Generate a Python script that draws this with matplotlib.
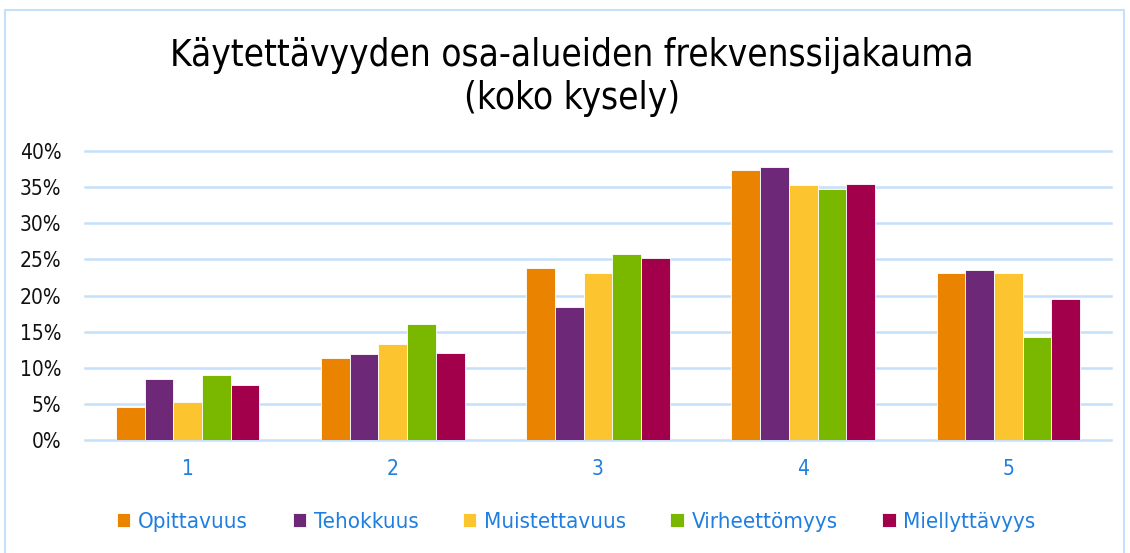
import matplotlib
matplotlib.use("Agg")
import matplotlib.pyplot as plt
import numpy as np
from matplotlib.patches import Rectangle
from matplotlib.ticker import PercentFormatter

plt.rcParams['font.family'] = ['DejaVu Sans']
plt.rcParams['font.stretch'] = 'condensed'

categories = ["1", "2", "3", "4", "5"]
series = ["Opittavuus", "Tehokkuus", "Muistettavuus", "Virheettömyys", "Miellyttävyys"]
opittavuus = [4.6, 11.3, 23.8, 37.4, 23.05]
tehokkuus = [8.5, 11.85, 18.4, 37.85, 23.5]
muistettavuus = [5.25, 13.3, 23.15, 35.25, 23.15]
virheettomyys = [9.05, 16.1, 25.8, 34.7, 14.3]
miellyttavyys = [7.65, 12.1, 25.2, 35.5, 19.55]
colors = ["#E98300", "#6E2878", "#FCC530", "#7AB800", "#A3004B"]

values = [opittavuus, tehokkuus, muistettavuus, virheettomyys, miellyttavyys]

fig = plt.figure(figsize=(11.3, 5.53), dpi=100)
# outer chart border
fig.patches.append(Rectangle((5 / 1130, -0.05), 1119 / 1130, 1.05 - 10 / 553,
                             transform=fig.transFigure, fill=False,
                             edgecolor="#C5E0FA", lw=1.5))

ax = fig.add_axes([85 / 1130, 1 - 440 / 553, 1026 / 1130, 289 / 553])

x = np.arange(len(categories))
w = 0.7 / len(series)
for i, (name, vals) in enumerate(zip(series, values)):
    ax.bar(x + (i - 2) * w, vals, width=w, color=colors[i], label=name,
           edgecolor="white", linewidth=0.6, zorder=3)

ax.set_xlim(-0.5, 4.5)
ax.set_ylim(0, 40)
ax.set_yticks(np.arange(0, 41, 5))
ax.yaxis.set_major_formatter(PercentFormatter(decimals=0))
ax.grid(axis="y", color="#C5E0FA", lw=1.8, zorder=0)
for gl in ax.get_ygridlines():
    gl.set_clip_on(False)
for s in ax.spines.values():
    s.set_visible(False)
ax.set_xticks(x)
ax.set_xticklabels(categories)
ax.tick_params(axis="y", length=0, pad=17, labelsize=15, labelcolor="#111111")
ax.tick_params(axis="x", length=0, pad=14, labelsize=15, labelcolor="#1F7FE0")

fig.text(0.506, 1 - 55 / 553, "Käytettävyyden osa-alueiden frekvenssijakauma",
         ha="center", va="center", fontsize=26.5)
fig.text(0.506, 1 - 98 / 553, "(koko kysely)", ha="center", va="center", fontsize=26.5)

leg = fig.legend(loc="center", bbox_to_anchor=(0.51, 1 - 522 / 553), ncol=5,
                 frameon=False, fontsize=16, handlelength=0.6, handleheight=0.6,
                 handletextpad=0.35, columnspacing=2.0)
for t in leg.get_texts():
    t.set_color("#1F7FE0")

fig.savefig("out.png", dpi=100)
